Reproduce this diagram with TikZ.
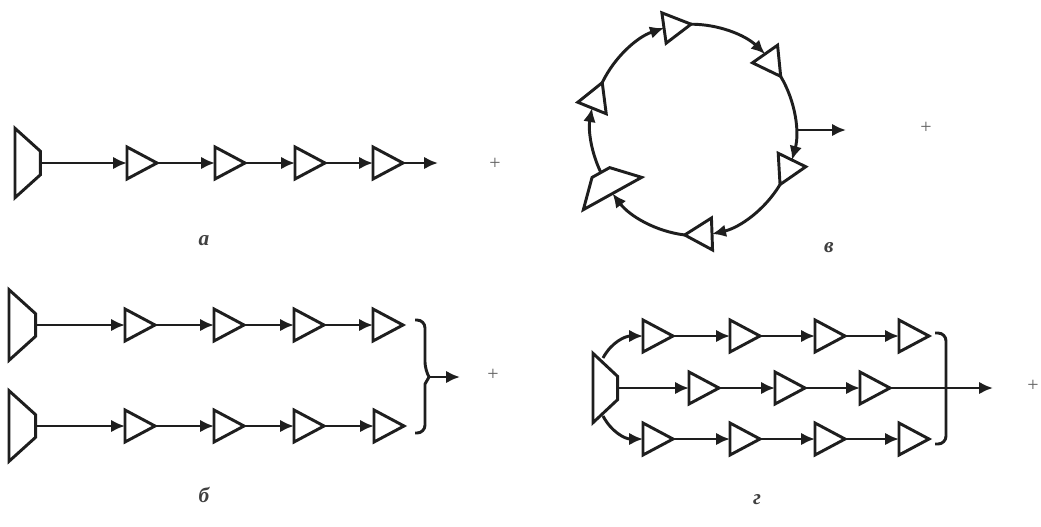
\documentclass[tikz,border=0pt]{standalone}
\usepackage{fontspec}
\setmainfont{Liberation Serif}
\usetikzlibrary{arrows.meta,shapes.geometric}
\definecolor{ink}{HTML}{1E1E1E}
\tikzset{
  ln/.style={draw=ink,line width=2.2pt,line join=miter},
  amp/.style={ln,shape=isosceles triangle,isosceles triangle stretches,inner sep=0pt,outer sep=0pt,
    minimum width=24pt,minimum height=22.5pt,anchor=lower side,fill=white},
  src/.style={ln,shape=trapezium,trapezium stretches=true,inner sep=1pt,outer sep=0pt,
    minimum width=52pt,minimum height=19pt,trapezium angle=46,rotate=-90,anchor=bottom side,fill=white},
  ringsrc/.style={src,minimum width=50pt,minimum height=18pt,trapezium angle=41,rotate=119},
  ringamp/.style={amp,minimum width=23pt,minimum height=20.5pt},
  arr/.style={ln,-{Latex[length=10.5pt,width=9.5pt]},looseness=0.88},
  brc/.style={ln,rounded corners=6pt},
  lab/.style={font=\itshape\bfseries\fontsize{16}{18}\selectfont,text=ink!85,inner sep=0pt},
  pls/.style={font=\fontsize{15}{16}\selectfont,text=ink!70,inner sep=0pt}
}
\begin{document}
\begin{tikzpicture}[x=0.75pt,y=-0.75pt]
\useasboundingbox (0,0) rectangle (1041,526);
\fill[white] (0,0) rectangle (1041,526);
% a
\node[src] (as) at (15,163) {};
\node[amp] (a1) at (127,163) {};
\node[amp] (a2) at (215,163) {};
\node[amp] (a3) at (295,163) {};
\node[amp] (a4) at (373,163) {};
\coordinate (aout) at (438,163);
\draw[arr] (as.top side) -- (a1.lower side);
\draw[arr] (a1.apex) -- (a2.lower side);
\draw[arr] (a2.apex) -- (a3.lower side);
\draw[arr] (a3.apex) -- (a4.lower side);
\draw[arr] (a4.apex) -- (aout);
\node[pls] (pa) at (495,164) {+};
\node[lab] (la) at (204,241) {а};
% b
\node[src,trapezium angle=43,minimum width=53pt,minimum height=20pt] (bs) at (9,325) {};
\node[amp] (b1) at (125,325) {};
\node[amp] (b2) at (214,325) {};
\node[amp] (b3) at (294,325) {};
\node[amp] (b4) at (373,325) {};
\node[src,trapezium angle=43,minimum width=53pt,minimum height=20pt] (cs) at (9,426) {};
\node[amp] (c1) at (125,426) {};
\node[amp] (c2) at (214,426) {};
\node[amp] (c3) at (294,426) {};
\node[amp] (c4) at (374,426) {};
\draw[arr] (bs.top side) -- (b1.lower side);
\draw[arr] (b1.apex) -- (b2.lower side);
\draw[arr] (b2.apex) -- (b3.lower side);
\draw[arr] (b3.apex) -- (b4.lower side);
\draw[arr] (cs.top side) -- (c1.lower side);
\draw[arr] (c1.apex) -- (c2.lower side);
\draw[arr] (c2.apex) -- (c3.lower side);
\draw[arr] (c3.apex) -- (c4.lower side);
\coordinate (bt) at (415,320);
\coordinate (btc) at (425,320);
\coordinate (bn) at (425,370);
\coordinate (bm) at (429,377);
\coordinate (bn2) at (425,384);
\coordinate (bbc) at (425,433);
\coordinate (bb) at (415,433);
\coordinate (bout) at (460,377);
\draw[brc] (bt) -- (btc) -- (bn) [rounded corners=0pt] -- (bm) -- (bn2) [rounded corners=6pt] -- (bbc) -- (bb);
\draw[arr] (bm) -- (bout);
\node[pls] (pb) at (493,375) {+};
\node[lab] (lb) at (204,495) {б};
% v ring
\node[ringamp,rotate=8] (r1) at (664,28) {};
\node[ringamp,rotate=-55] (r2) at (765,54) {};
\node[ringamp,rotate=-116] (r3) at (792,160) {};
\node[ringamp,minimum width=24pt,rotate=182] (r4) at (712,234) {};
\node[ringsrc] (rs) at (612.5,193.5) {};
\node[ringamp,rotate=68] (r5) at (592,108) {};
\coordinate (rtap) at (796,130);
\coordinate (rout) at (846,130);
\draw[arr] (r1.apex) to[bend left=22] (r2.lower side);
\draw[arr] (r2.apex) to[bend left=23] (r3.lower side);
\draw[arr] (r3.apex) to[bend left=23] (r4.lower side);
\draw[arr] (r4.apex) to[bend left=23] (rs.bottom side);
\draw[arr] (rs.top side) to[bend left=18] (r5.lower side);
\draw[arr] (r5.apex) to[bend left=23] (r1.lower side);
\draw[arr] (rtap) -- (rout);
\node[pls] (pv) at (926,128) {+};
\node[lab] (lv) at (829,248) {в};
% g
\node[src,trapezium angle=45,minimum width=52pt,minimum height=18.5pt] (ds) at (593,388) {};
\node[amp] (d1) at (643,336) {};
\node[amp] (d2) at (730,336) {};
\node[amp] (d3) at (815,336) {};
\node[amp] (d4) at (899,336) {};
\node[amp] (e1) at (689,388) {};
\node[amp] (e2) at (775,388) {};
\node[amp] (e3) at (860,388) {};
\node[amp] (f1) at (643,439) {};
\node[amp] (f2) at (730,439) {};
\node[amp] (f3) at (815,439) {};
\node[amp] (f4) at (899,439) {};
\coordinate (dup) at (603,358);
\coordinate (dlo) at (603,416);
\draw[arr] (dup) to[out=62,in=180,looseness=1] (d1.lower side);
\draw[arr] (d1.apex) -- (d2.lower side);
\draw[arr] (d2.apex) -- (d3.lower side);
\draw[arr] (d3.apex) -- (d4.lower side);
\draw[arr] (ds.top side) -- (e1.lower side);
\draw[arr] (e1.apex) -- (e2.lower side);
\draw[arr] (e2.apex) -- (e3.lower side);
\coordinate (dout) at (993,388);
\draw[arr] (e3.apex) -- (dout);
\draw[arr] (dlo) to[out=-62,in=180,looseness=1] (f1.lower side);
\draw[arr] (f1.apex) -- (f2.lower side);
\draw[arr] (f2.apex) -- (f3.lower side);
\draw[arr] (f3.apex) -- (f4.lower side);
\coordinate (dt) at (935,333);
\coordinate (dtc) at (946,333);
\coordinate (dbc) at (946,444);
\coordinate (db) at (935,444);
\draw[brc] (dt) -- (dtc) -- (dbc) -- (db);
\node[pls] (pg) at (1033,386) {+};
\node[lab] (lg) at (757,500) {г};
\end{tikzpicture}
\end{document}
